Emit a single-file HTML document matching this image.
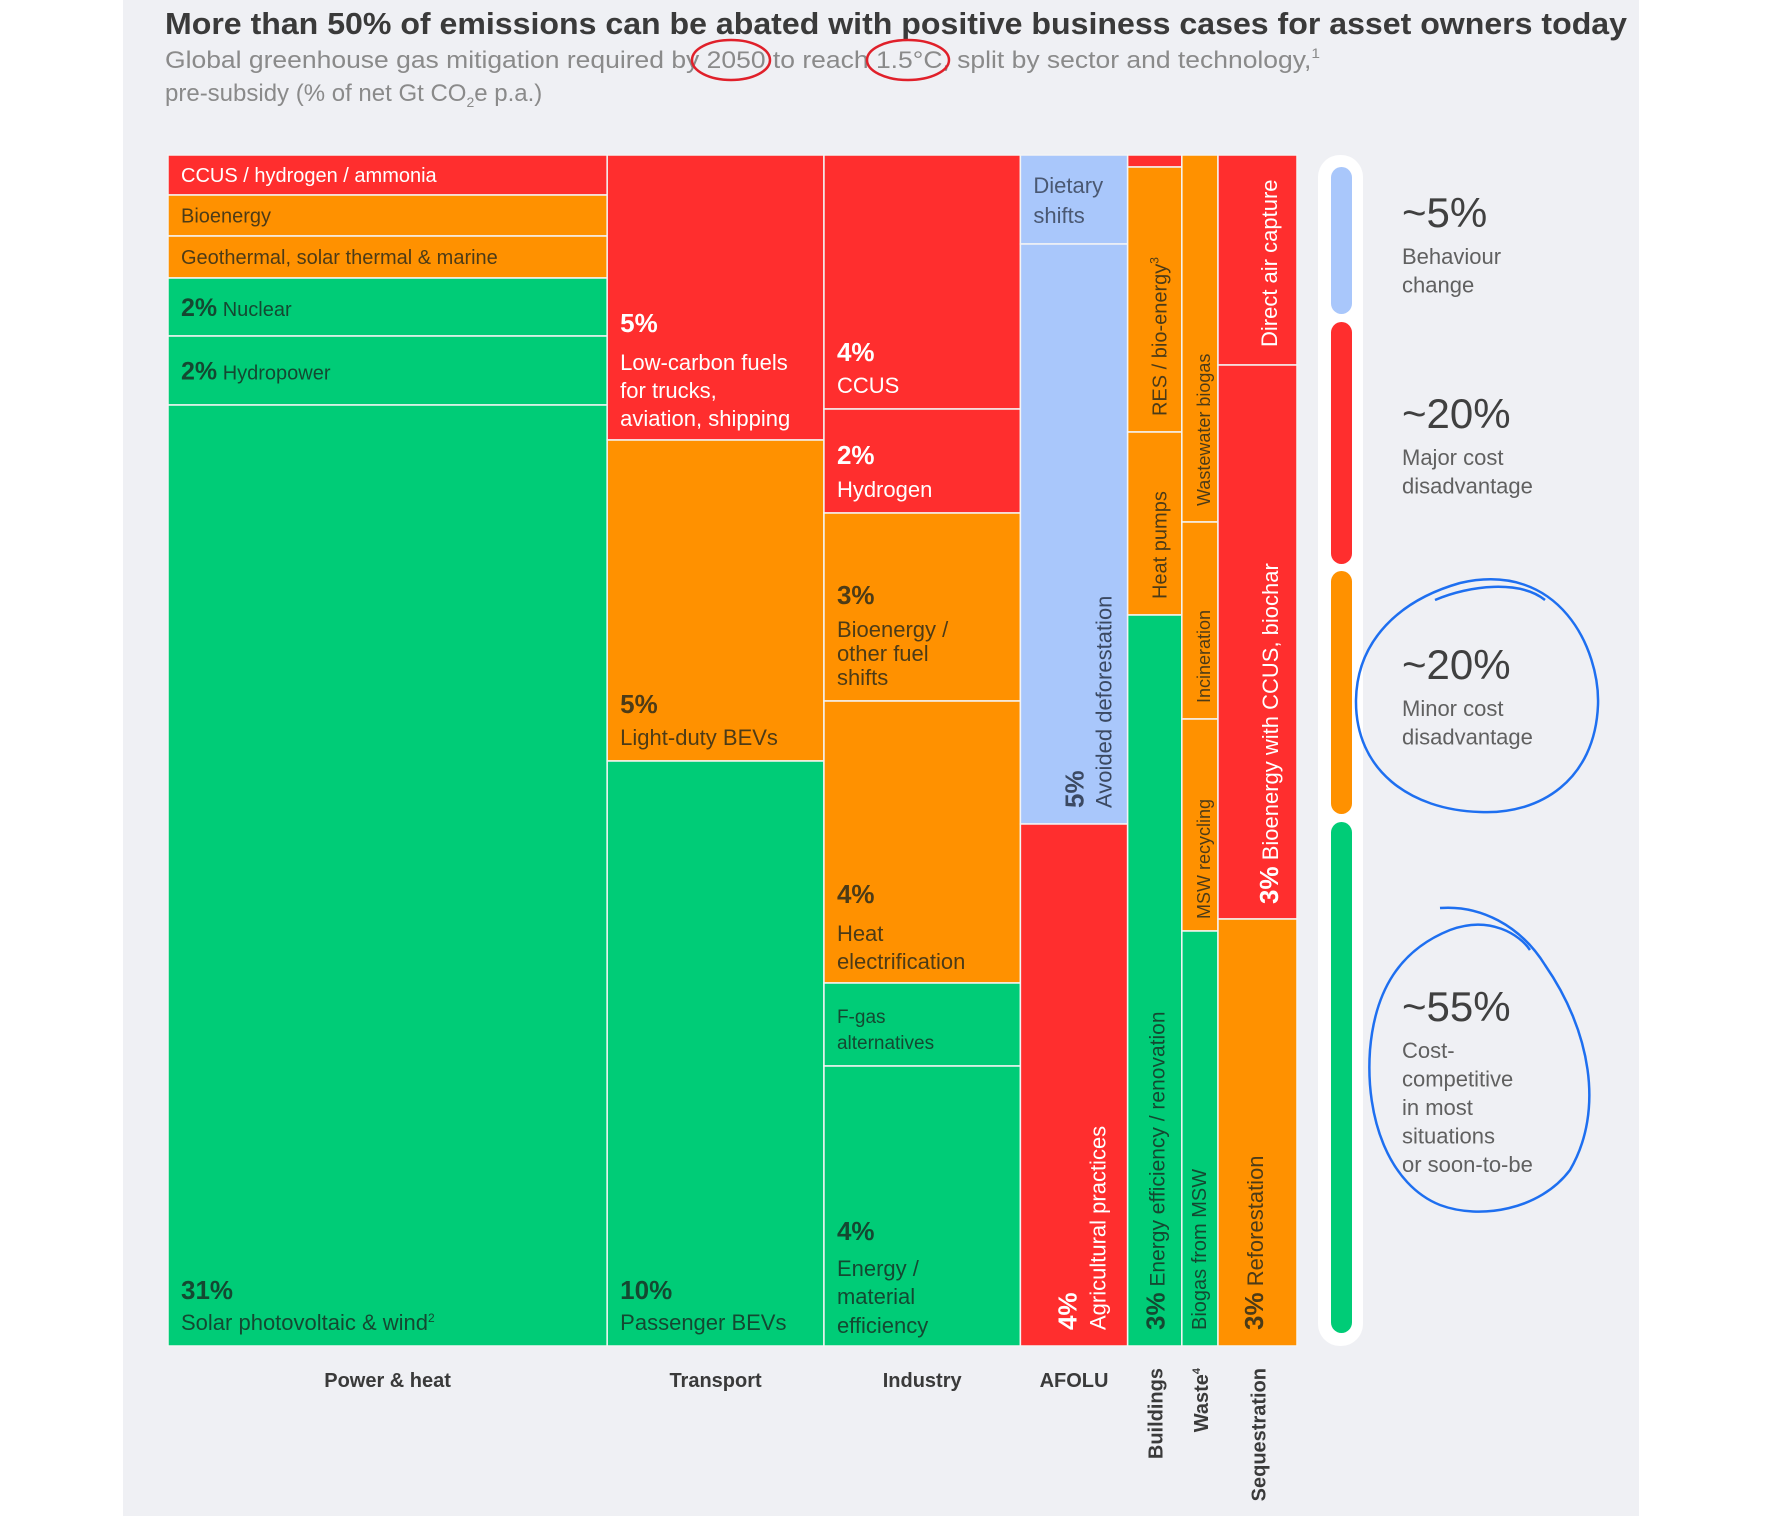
<!DOCTYPE html>
<html><head><meta charset="utf-8"><style>
html,body{margin:0;padding:0;background:#fff;}
svg{display:block;font-family:"Liberation Sans",Arial,sans-serif;}
</style></head><body>
<svg id="chart" width="1776" height="1516" viewBox="0 0 1776 1516" xmlns="http://www.w3.org/2000/svg">
<rect x="123" y="0" width="1516" height="1516" fill="#eff0f4"/>
<text x="165" y="34" font-size="31" font-weight="bold" fill="#3a3a3a" textLength="1462" lengthAdjust="spacingAndGlyphs">More than 50% of emissions can be abated with positive business cases for asset owners today</text>
<text x="165" y="68" font-size="24" fill="#8a8a8a" textLength="1155" lengthAdjust="spacingAndGlyphs">Global greenhouse gas mitigation required by 2050 to reach 1.5°C, split by sector and technology,<tspan font-size="14" dy="-10">1</tspan></text>
<text x="165" y="101" font-size="24" fill="#8a8a8a">pre-subsidy (% of net Gt CO<tspan font-size="14" dy="6">2</tspan><tspan dy="-6">e p.a.)</tspan></text>
<ellipse cx="731" cy="60" rx="39" ry="20" fill="none" stroke="#e0202a" stroke-width="2.5"/>
<ellipse cx="908" cy="60" rx="41" ry="20" fill="none" stroke="#e0202a" stroke-width="2.5"/>
<g id="plot"></g>
<g id="legend"></g>
<path d="M1435,600 C1470,585 1520,580 1545,600 M1460,583 C1560,560 1600,650 1598,705 C1595,780 1540,815 1480,812 C1410,810 1355,770 1356,700 C1357,640 1400,600 1460,583" fill="none" stroke="#1e6ff0" stroke-width="2.5"/>
<path d="M1440,908 C1480,905 1520,925 1545,965 C1590,1030 1605,1110 1570,1170 C1540,1210 1480,1220 1440,1205 C1390,1185 1365,1120 1370,1050 C1375,990 1400,950 1450,930 C1490,915 1520,935 1530,950" fill="none" stroke="#1e6ff0" stroke-width="2.5"/>
</svg>
<script>
const sectors=["Power & heat","Transport","Industry","AFOLU","Buildings","Waste","Sequestration"];
const sectorShare=[38.9,19.2,17.4,9.5,4.8,3.2,7.0];
const segValues=[[40,41,42,58,69,941],[285,321,585],[254,104,188,282,83,280],[89,580,522],[12,265,183,731],[367,197,212,415],[210,554,427]];
const segClass=[["major","minor","minor","cost","cost","cost"],["major","minor","cost"],["major","major","minor","minor","cost","cost"],["behav","behav","major"],["major","minor","minor","cost"],["minor","minor","minor","cost"],["major","major","minor"]];
const COLORS={major:"#ff2e2e",minor:"#ff9100",cost:"#00cc77",behav:"#a9c7fb"};
const X0=168,W=1129,Y0=155,H=1191;
const NS="http://www.w3.org/2000/svg";
const plot=document.getElementById('plot');
const totalShare=sectorShare.reduce((a,b)=>a+b,0);
function xScale(v){return v/totalShare*W;}
const rects=[];
let cx=X0;
sectors.forEach((s,i)=>{
  const w=xScale(sectorShare[i]);
  const tot=segValues[i].reduce((a,b)=>a+b,0);
  let cy=Y0;rects.push([]);
  segValues[i].forEach((v,j)=>{
    const h=v/tot*H;
    const r=document.createElementNS(NS,'rect');
    r.setAttribute('x',cx);r.setAttribute('y',cy);r.setAttribute('width',w);r.setAttribute('height',h);
    r.setAttribute('fill',COLORS[segClass[i][j]]);r.setAttribute('stroke','#f4f4f4');r.setAttribute('stroke-width','1.5');
    
    
    plot.appendChild(r);
    rects[i].push({x:cx,y:cy,w:w,h:h});
    cy+=h;
  });
  cx+=w;
});
const DARK="rgba(25,35,30,0.78)",WHITE="#fff";
function txt(x,y,parts,color,rot,name){
  const t=document.createElementNS(NS,'text');
  t.setAttribute('x',x);t.setAttribute('y',y);t.setAttribute('fill',color);
  if(rot)t.setAttribute('transform','rotate(-90 '+x+' '+y+')');
  
  
  parts.forEach(p=>{const s=document.createElementNS(NS,'tspan');s.setAttribute('font-size',p[1]);if(p[2])s.setAttribute('font-weight','bold');if(p[3])s.setAttribute('dy',p[3]);s.textContent=p[0];t.appendChild(s);});
  plot.appendChild(t);
}
// horizontal labels: lines [text,size,bold,offset], ref 'top'|'bottom'|'mid'
function H_(i,j,ref,lines,color){
  const r=rects[i][j];
  lines.forEach(l=>{
    let y=ref==='top'?r.y+l[3]:ref==='bottom'?r.y+r.h+l[3]:r.y+r.h/2+l[3];
    txt(r.x+13,y,l[4]||[[l[0],l[1],l[2]]],color,false,'label-'+i+'-'+j);
  });
}
function R_(i,j,bx,bottomOff,parts,color){
  const r=rects[i][j];
  txt(r.x+bx,r.y+r.h-bottomOff,parts,color,true,'label-'+i+'-'+j);
}
H_(0,0,'mid',[["",0,0,7,[["CCUS / hydrogen / ammonia",20]]]],WHITE);
H_(0,1,'mid',[["",0,0,7,[["Bioenergy",20]]]],DARK);
H_(0,2,'mid',[["",0,0,7,[["Geothermal, solar thermal & marine",20]]]],DARK);
H_(0,3,'mid',[["",0,0,9,[["2%",25,1],[" Nuclear",20]]]],DARK);
H_(0,4,'mid',[["",0,0,9,[["2%",25,1],[" Hydropower",20]]]],DARK);
H_(0,5,'bottom',[["31%",26,1,-47],["",0,0,-16,[["Solar photovoltaic & wind",22],["2",12,0,-8]]]],DARK);
H_(1,0,'top',[["5%",26,1,177],["Low-carbon fuels",22,0,215],["for trucks,",22,0,243],["aviation, shipping",22,0,271]],WHITE);
H_(1,1,'bottom',[["5%",26,1,-48],["Light-duty BEVs",22,0,-16]],DARK);
H_(1,2,'bottom',[["10%",26,1,-47],["Passenger BEVs",22,0,-16]],DARK);
H_(2,0,'bottom',[["4%",26,1,-48],["CCUS",22,0,-16]],WHITE);
H_(2,1,'bottom',[["2%",26,1,-49],["Hydrogen",22,0,-16]],WHITE);
H_(2,2,'top',[["3%",26,1,91],["Bioenergy /",22,0,124],["other fuel",22,0,148],["shifts",22,0,172]],DARK);
H_(2,3,'bottom',[["4%",26,1,-80],["Heat",22,0,-42],["electrification",22,0,-14]],DARK);
H_(2,4,'top',[["F-gas",19,0,40],["alternatives",19,0,66]],DARK);
H_(2,5,'bottom',[["4%",26,1,-106],["Energy /",22,0,-70],["material",22,0,-42],["efficiency",22,0,-13]],DARK);
H_(3,0,'top',[["Dietary",22,0,38],["shifts",22,0,68]],"rgba(50,60,80,0.8)");
R_(3,1,63,16,[["5%",26,1]],"rgba(40,50,70,0.85)");
R_(3,1,91,16,[["Avoided deforestation",22]],"rgba(40,50,70,0.85)");
R_(3,2,56,16,[["4%",26,1]],WHITE);
R_(3,2,85,16,[["Agricultural practices",22]],WHITE);
R_(4,1,39,16,[["RES / bio-energy",20],["3",12,0,-8]],DARK);
R_(4,2,39,16,[["Heat pumps",20]],DARK);
R_(4,3,37,16,[["3%",26,1],[" Energy efficiency / renovation",21]],DARK);
R_(5,0,28,16,[["Wastewater biogas",18]],DARK);
R_(5,1,28,16,[["Incineration",18]],DARK);
R_(5,2,28,12,[["MSW recycling",18]],DARK);
R_(5,3,24,16,[["Biogas from MSW",20]],DARK);
R_(6,0,59,18,[["Direct air capture",22]],WHITE);
R_(6,1,60,15,[["3%",26,1],[" Bioenergy with CCUS, biochar",22]],WHITE);
R_(6,2,45,16,[["3%",26,1],[" Reforestation",22]],DARK);
// sector labels
let sx=X0;
sectors.forEach((s,i)=>{
  const w=xScale(sectorShare[i]);
  const t=document.createElementNS(NS,'text');
  t.setAttribute('font-size','20');t.setAttribute('font-weight','bold');t.setAttribute('fill','#3a3a3a');
  
  
  if(i<4){t.setAttribute('x',sx+w/2);t.setAttribute('y',1387);t.setAttribute('text-anchor','middle');}
  else{const bx=sx+w/2+8;t.setAttribute('x',bx);t.setAttribute('y',1368);t.setAttribute('text-anchor','end');t.setAttribute('transform','rotate(-90 '+bx+' 1368)');}
  t.textContent=s;
  if(s==="Waste"){const sp=document.createElementNS(NS,'tspan');sp.setAttribute('font-size','11');sp.setAttribute('dy','-8');sp.textContent='4';t.appendChild(sp);}
  plot.appendChild(t);
  sx+=w;
});
// legend
const lg=document.getElementById('legend');
function el(tag,attrs,name,text){const e=document.createElementNS(NS,tag);for(const k in attrs)e.setAttribute(k,attrs[k]);
  
  
  if(text)e.textContent=text;lg.appendChild(e);return e;}
el('rect',{x:1318,y:155,width:45,height:1191,rx:22,fill:'#fff'},'legend-track');
const legendBars=[["behav",167,314],["major",322,564],["minor",571,814],["cost",822,1333]];
legendBars.forEach(b=>el('rect',{x:1331,y:b[1],width:21,height:b[2]-b[1],rx:10.5,fill:COLORS[b[0]]},'legend-bar-'+b[0]));
const legendText=[["~5%",227,["Behaviour","change"]],["~20%",428,["Major cost","disadvantage"]],["~20%",679,["Minor cost","disadvantage"]],["~55%",1021,["Cost-","competitive","in most","situations","or soon-to-be"]]];
legendText.forEach((l,i)=>{
  el('text',{x:1402,y:l[1],'font-size':42,fill:'#404040'},'legend-value',l[0]);
  l[2].forEach((s,k)=>el('text',{x:1402,y:l[1]+37+k*28.5,'font-size':22,fill:'#606060'},'legend-label',s));
});
</script>
</body></html>
